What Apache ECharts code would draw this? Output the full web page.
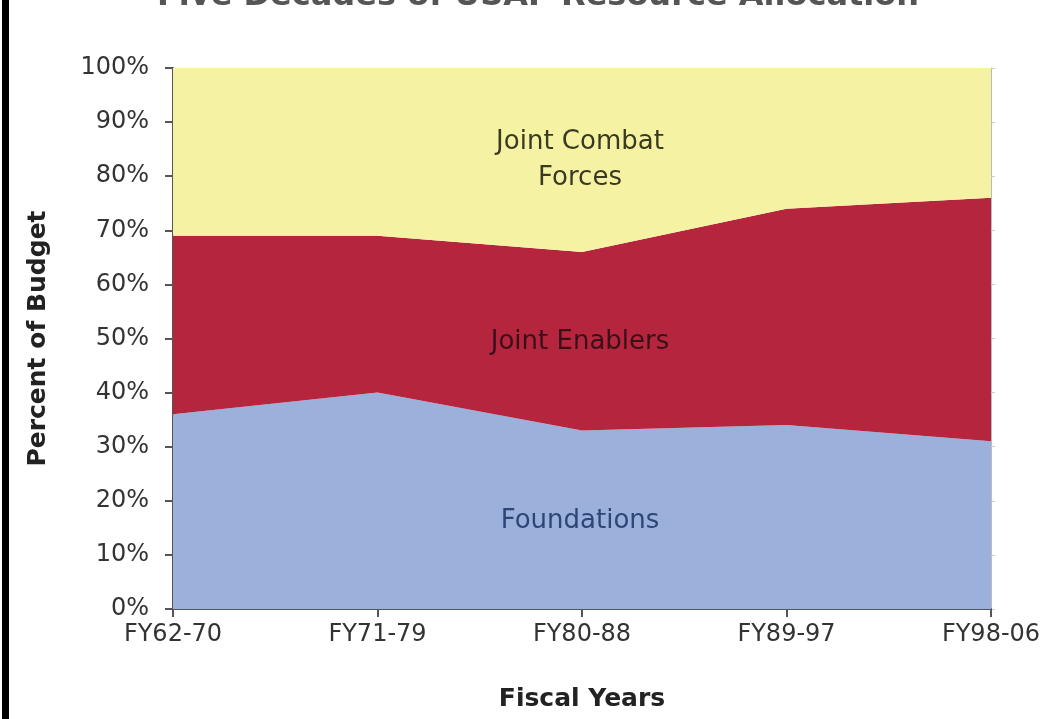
<!DOCTYPE html>
<html>
<head>
<meta charset="utf-8">
<script src="https://cdn.jsdelivr.net/npm/echarts@6/dist/echarts.min.js"></script>
<style>
html,body{margin:0;padding:0;background:#fff;}
#chart{width:1050px;height:719px;}
</style>
</head>
<body>
<div id="chart"></div>
<script>
var categories = ['FY62-70', 'FY71-79', 'FY80-88', 'FY89-97', 'FY98-06'];
var foundations = [36, 40, 33, 34, 31];
var jointEnablers = [33, 29, 33, 40, 45];
var jointCombat = [31, 31, 34, 26, 24];
var yTicks = [0, 10, 20, 30, 40, 50, 60, 70, 80, 90, 100];

var chart = echarts.init(document.getElementById('chart'));
var font = 'DejaVu Sans, Verdana, sans-serif';

function areaSeries(name, data, color) {
  return {
    name: name,
    type: 'line',
    stack: 'total',
    data: data,
    symbol: 'none',
    lineStyle: {width: 0},
    areaStyle: {color: color, opacity: 1},
    itemStyle: {color: color},
    silent: true
  };
}

chart.setOption({
  animation: false,
  backgroundColor: '#ffffff',
  title: {
    text: 'Five Decades of USAF Resource Allocation',
    left: 533,
    textAlign: 'center',
    top: -24,
    textStyle: {fontFamily: font, fontSize: 32, fontWeight: 'bold', color: '#555'}
  },
  grid: {left: 173, right: 59, top: 68, bottom: 110},
  xAxis: {
    type: 'category',
    data: categories,
    boundaryGap: false,
    name: 'Fiscal Years',
    nameLocation: 'middle',
    nameGap: 78,
    nameTextStyle: {fontFamily: font, fontSize: 25, fontWeight: 'bold', color: '#222'},
    axisLine: {lineStyle: {color: '#555', width: 2}},
    axisTick: {length: 8, lineStyle: {color: '#555', width: 2}},
    axisLabel: {fontFamily: font, fontSize: 24, color: '#333', margin: 14}
  },
  yAxis: [{
    type: 'value',
    min: 0,
    max: 100,
    interval: 10,
    name: 'Percent of Budget',
    nameLocation: 'middle',
    nameGap: 122,
    nameRotate: 90,
    nameTextStyle: {fontFamily: font, fontSize: 25, fontWeight: 'bold', color: '#222'},
    axisLine: {show: true, lineStyle: {color: '#555', width: 2}},
    axisTick: {show: true, length: 8, lineStyle: {color: '#555', width: 2}},
    splitLine: {show: false},
    axisLabel: {
      fontFamily: font, fontSize: 24, color: '#333', margin: 24,
      formatter: function (v) { return yTicks.indexOf(v) >= 0 ? v + '%' : ''; }
    }
  }, {
    type: 'value',
    min: 0,
    max: 100,
    interval: 10,
    position: 'right',
    axisLine: {show: true, lineStyle: {color: '#bbbbbb', width: 1}},
    axisTick: {show: true, length: 4, inside: false, lineStyle: {color: '#cccccc'}},
    axisLabel: {show: false},
    splitLine: {show: false}
  }],
  series: [
    areaSeries('Foundations', foundations, '#9BB1DB'),
    areaSeries('Joint Enablers', jointEnablers, '#B5263E'),
    areaSeries('Joint Combat Forces', jointCombat, '#F6F2A4')
  ],
  graphic: [
    {type: 'rect', z: 100, left: 2, top: 0, shape: {width: 7, height: 719}, style: {fill: '#000'}},
    {type: 'text', z: 100, x: 580, y: 160, style: {text: 'Joint Combat\nForces', fontFamily: font, fontSize: 26, fill: '#3a3a22', align: 'center', verticalAlign: 'middle', lineHeight: 36}},
    {type: 'text', z: 100, x: 580, y: 342, style: {text: 'Joint Enablers', fontFamily: font, fontSize: 26, fill: '#3a1018', align: 'center', verticalAlign: 'middle'}},
    {type: 'text', z: 100, x: 580, y: 521, style: {text: 'Foundations', fontFamily: font, fontSize: 26, fill: '#2f4577', align: 'center', verticalAlign: 'middle'}}
  ]
});
</script>
</body>
</html>
